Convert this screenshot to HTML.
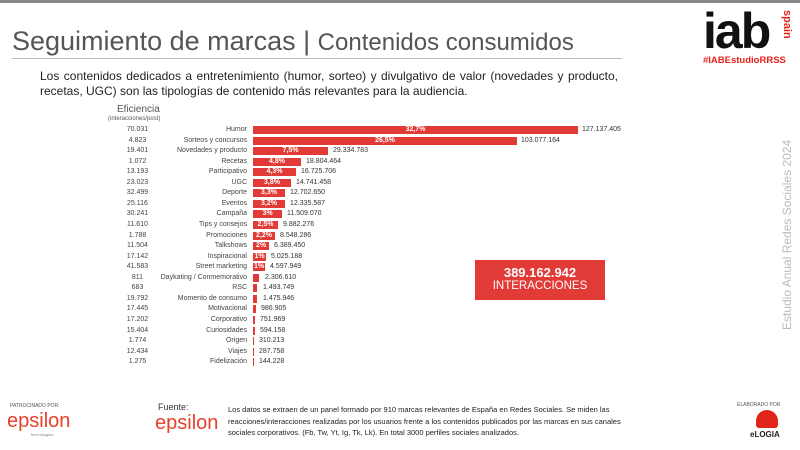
<!DOCTYPE html><html><head><meta charset="utf-8"><style>
body{margin:0;width:800px;height:450px;overflow:hidden;background:#fff;font-family:"Liberation Sans",sans-serif;position:relative}
.a{position:absolute;white-space:nowrap}
.e{left:110px;width:55px;text-align:center;font-size:7px;color:#444}
.c{left:120px;width:127px;text-align:right;font-size:7px;color:#444}
.b{left:253px;height:8px;background:#e23a36;color:#fff;font-size:7px;text-align:center;line-height:8px;font-weight:bold}
.v{font-size:7px;color:#333}
</style></head><body>
<div class="a" style="left:0;top:0;width:800px;height:3px;background:#888"></div>
<div class="a" style="left:12px;top:26px;font-size:27px;color:#555">Seguimiento de marcas | <span style="font-size:24px">Contenidos consumidos</span></div>
<div class="a" style="left:12px;top:58px;width:610px;height:1px;background:#bbb"></div>
<div class="a" style="left:40px;top:69px;width:578px;font-size:12px;color:#222;white-space:normal;text-align:justify;line-height:15px">Los contenidos dedicados a entretenimiento (humor, sorteo) y divulgativo de valor (novedades y producto, recetas, UGC) son las tipologías de contenido más relevantes para la audiencia.</div>
<div class="a" style="left:117px;top:104px;font-size:10px;color:#555">Eficiencia</div>
<div class="a" style="left:108px;top:116px;font-size:6px;color:#555">(interacciones/post)</div>
<div class="a" style="left:703px;top:2px;font-size:50px;font-weight:bold;color:#111;letter-spacing:-2px">iab</div>
<div class="a" style="left:780px;top:10px;font-size:11px;font-weight:bold;color:#e2231a;transform:rotate(90deg);transform-origin:left top;left:793px">spain</div>
<div class="a" style="left:703px;top:55px;font-size:9.5px;font-weight:bold;color:#e2231a">#IABEstudioRRSS</div>
<div class="a" style="left:780px;top:330px;font-size:12px;color:#bbb;transform:rotate(-90deg);transform-origin:left top">Estudio Anual Redes Sociales 2024</div>
<div class="a" style="left:475px;top:260px;width:130px;height:40px;background:#e23a36;color:#fff;text-align:center"><div style="font-size:13px;font-weight:bold;margin-top:5px">389.162.942</div><div style="font-size:11.5px">INTERACCIONES</div></div>

<div class="a e" style="top:126px">70.031</div><div class="a c" style="top:126px">Humor</div><div class="a b" style="top:126px;width:325px">32,7%</div><div class="a v" style="top:126px;left:582px">127.137.405</div>
<div class="a e" style="top:136.5px">4.823</div><div class="a c" style="top:136.5px">Sorteos y concursos</div><div class="a b" style="top:136.5px;width:264px">26,5%</div><div class="a v" style="top:136.5px;left:521px">103.077.164</div>
<div class="a e" style="top:147px">19.401</div><div class="a c" style="top:147px">Novedades y producto</div><div class="a b" style="top:147px;width:75px">7,5%</div><div class="a v" style="top:147px;left:333px">29.334.783</div>
<div class="a e" style="top:157.6px">1.072</div><div class="a c" style="top:157.6px">Recetas</div><div class="a b" style="top:157.6px;width:48px">4,8%</div><div class="a v" style="top:157.6px;left:306px">18.804.464</div>
<div class="a e" style="top:168.2px">13.193</div><div class="a c" style="top:168.2px">Participativo</div><div class="a b" style="top:168.2px;width:43px">4,3%</div><div class="a v" style="top:168.2px;left:301px">16.725.706</div>
<div class="a e" style="top:178.7px">23.023</div><div class="a c" style="top:178.7px">UGC</div><div class="a b" style="top:178.7px;width:38px">3,8%</div><div class="a v" style="top:178.7px;left:296px">14.741.458</div>
<div class="a e" style="top:189.3px">32.499</div><div class="a c" style="top:189.3px">Deporte</div><div class="a b" style="top:189.3px;width:32px">3,3%</div><div class="a v" style="top:189.3px;left:290px">12.702.650</div>
<div class="a e" style="top:199.8px">25.116</div><div class="a c" style="top:199.8px">Eventos</div><div class="a b" style="top:199.8px;width:32px">3,2%</div><div class="a v" style="top:199.8px;left:290px">12.335.587</div>
<div class="a e" style="top:210.4px">30.241</div><div class="a c" style="top:210.4px">Campaña</div><div class="a b" style="top:210.4px;width:29px">3%</div><div class="a v" style="top:210.4px;left:287px">11.509.070</div>
<div class="a e" style="top:221px">11.610</div><div class="a c" style="top:221px">Tips y consejos</div><div class="a b" style="top:221px;width:25px">2,5%</div><div class="a v" style="top:221px;left:283px">9.882.276</div>
<div class="a e" style="top:231.5px">1.788</div><div class="a c" style="top:231.5px">Promociones</div><div class="a b" style="top:231.5px;width:22px">2,2%</div><div class="a v" style="top:231.5px;left:280px">8.548.286</div>
<div class="a e" style="top:242px">11.504</div><div class="a c" style="top:242px">Talkshows</div><div class="a b" style="top:242px;width:16px">2%</div><div class="a v" style="top:242px;left:274px">6.389.450</div>
<div class="a e" style="top:252.6px">17.142</div><div class="a c" style="top:252.6px">Inspiracional</div><div class="a b" style="top:252.6px;width:13px">1%</div><div class="a v" style="top:252.6px;left:271px">5.025.188</div>
<div class="a e" style="top:263.2px">41.583</div><div class="a c" style="top:263.2px">Street marketing</div><div class="a b" style="top:263.2px;width:12px">1%</div><div class="a v" style="top:263.2px;left:270px">4.597.949</div>
<div class="a e" style="top:273.7px">811</div><div class="a c" style="top:273.7px">Daykating / Conmemorativo</div><div class="a b" style="top:273.7px;width:6px"></div><div class="a v" style="top:273.7px;left:265px">2.306.610</div>
<div class="a e" style="top:284.3px">683</div><div class="a c" style="top:284.3px">RSC</div><div class="a b" style="top:284.3px;width:4px"></div><div class="a v" style="top:284.3px;left:263px">1.493.749</div>
<div class="a e" style="top:294.8px">19.792</div><div class="a c" style="top:294.8px">Momento de consumo</div><div class="a b" style="top:294.8px;width:4px"></div><div class="a v" style="top:294.8px;left:263px">1.475.946</div>
<div class="a e" style="top:305.4px">17.445</div><div class="a c" style="top:305.4px">Motivacional</div><div class="a b" style="top:305.4px;width:3px"></div><div class="a v" style="top:305.4px;left:261px">986.905</div>
<div class="a e" style="top:316px">17.202</div><div class="a c" style="top:316px">Corporativo</div><div class="a b" style="top:316px;width:2px"></div><div class="a v" style="top:316px;left:260px">751.969</div>
<div class="a e" style="top:326.5px">15.404</div><div class="a c" style="top:326.5px">Curiosidades</div><div class="a b" style="top:326.5px;width:2px"></div><div class="a v" style="top:326.5px;left:260px">594.158</div>
<div class="a e" style="top:337px">1.774</div><div class="a c" style="top:337px">Origen</div><div class="a b" style="top:337px;width:1px"></div><div class="a v" style="top:337px;left:259px">310.213</div>
<div class="a e" style="top:347.6px">12.434</div><div class="a c" style="top:347.6px">Viajes</div><div class="a b" style="top:347.6px;width:1px"></div><div class="a v" style="top:347.6px;left:259px">287.758</div>
<div class="a e" style="top:358.2px">1.275</div><div class="a c" style="top:358.2px">Fidelización</div><div class="a b" style="top:358.2px;width:1px"></div><div class="a v" style="top:358.2px;left:259px">144.228</div>

<div class="a" style="left:10px;top:403px;font-size:5px;color:#555">PATROCINADO POR:</div>
<div class="a" style="left:7px;top:410px;font-size:20px;color:#e8402a">epsilon</div>
<div class="a" style="left:30px;top:432px;font-size:4px;color:#888">Technologies</div>
<div class="a" style="left:158px;top:402px;font-size:9px;color:#333">Fuente:</div>
<div class="a" style="left:155px;top:412px;font-size:20px;color:#e8402a">epsilon</div>
<div class="a" style="left:228px;top:404px;width:400px;font-size:7.5px;color:#222;white-space:normal;line-height:11.5px">Los datos se extraen de un panel formado por 910 marcas relevantes de España en Redes Sociales. Se miden las reacciones/interacciones realizadas por los usuarios frente a los contenidos publicados por las marcas en sus canales sociales corporativos. (Fb, Tw, Yt, Ig, Tk, Lk). En total 3000 perfiles sociales analizados.</div>
<div class="a" style="left:737px;top:402px;font-size:5px;color:#555">ELABORADO POR</div>
<div class="a" style="left:756px;top:410px;width:22px;height:18px;background:#e2231a;border-radius:11px 11px 3px 3px"></div>
<div class="a" style="left:750px;top:430px;font-size:8px;font-weight:bold;color:#222">eLOGIA</div>
</body></html>
